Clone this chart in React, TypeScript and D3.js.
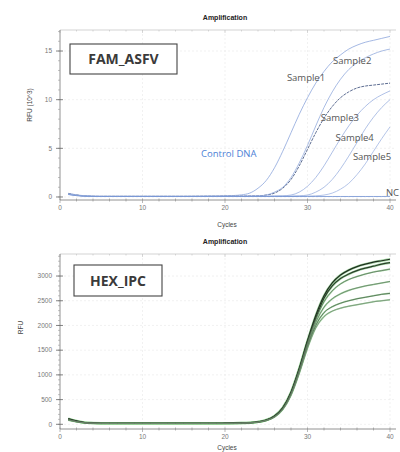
import React from "react";
import * as d3 from "d3";

// cycle numbers (x categories)
const cycles = [
  1, 2, 3, 4, 5, 6, 7, 8, 9, 10, 11, 12, 13, 14, 15, 16, 17, 18, 19, 20,
  21, 22, 23, 24, 25, 26, 27, 28, 29, 30, 31, 32, 33, 34, 35, 36, 37, 38, 39, 40,
];

// FAM_ASFV channel, RFU x10^3
const famControl = [
  0.38, 0.22, 0.12, 0.08, 0.07, 0.07, 0.07, 0.07, 0.07, 0.07, 0.07, 0.07, 0.07, 0.07, 0.07, 0.08, 0.08, 0.09, 0.1, 0.12,
  0.15, 0.22, 0.4, 0.9, 1.7, 3.0, 4.7, 6.6, 8.5, 10.2, 11.7, 12.9, 13.9, 14.6, 15.2, 15.6, 15.9, 16.1, 16.3, 16.5,
];
const famSample1 = [
  0.34, 0.2, 0.1, 0.07, 0.06, 0.06, 0.06, 0.06, 0.06, 0.06, 0.06, 0.06, 0.06, 0.06, 0.06, 0.06, 0.07, 0.07, 0.07, 0.08,
  0.08, 0.09, 0.1, 0.12, 0.2, 0.4, 0.9, 1.8, 3.2, 4.9, 6.6, 8.1, 9.3, 10.2, 10.8, 11.2, 11.4, 11.5, 11.6, 11.7,
];
const famSample2 = [
  0.3, 0.18, 0.1, 0.07, 0.06, 0.06, 0.06, 0.06, 0.06, 0.06, 0.06, 0.06, 0.06, 0.06, 0.06, 0.06, 0.06, 0.07, 0.07, 0.07,
  0.08, 0.08, 0.09, 0.11, 0.2, 0.5, 1.0, 2.0, 3.5, 5.3, 7.3, 9.2, 10.8, 12.1, 13.1, 13.8, 14.3, 14.7, 15.0, 15.2,
];
const famSample3 = [
  0.3, 0.17, 0.09, 0.06, 0.06, 0.06, 0.06, 0.06, 0.06, 0.06, 0.06, 0.06, 0.06, 0.06, 0.06, 0.06, 0.06, 0.06, 0.06, 0.07,
  0.07, 0.07, 0.08, 0.08, 0.09, 0.1, 0.12, 0.2, 0.5, 1.1, 2.0, 3.2, 4.6, 6.0, 7.3, 8.4, 9.3, 10.0, 10.5, 10.9,
];
const famSample4 = [
  0.28, 0.16, 0.09, 0.06, 0.05, 0.05, 0.05, 0.05, 0.05, 0.05, 0.05, 0.05, 0.05, 0.05, 0.05, 0.05, 0.05, 0.06, 0.06, 0.06,
  0.06, 0.06, 0.07, 0.07, 0.07, 0.08, 0.08, 0.09, 0.12, 0.2, 0.5, 1.0, 1.8, 2.9, 4.2, 5.6, 7.0, 8.2, 9.2, 10.0,
];
const famSample5 = [
  0.27, 0.15, 0.08, 0.06, 0.05, 0.05, 0.05, 0.05, 0.05, 0.05, 0.05, 0.05, 0.05, 0.05, 0.05, 0.05, 0.05, 0.05, 0.05, 0.05,
  0.06, 0.06, 0.06, 0.06, 0.06, 0.07, 0.07, 0.07, 0.08, 0.09, 0.12, 0.2, 0.4, 0.8, 1.4, 2.3, 3.4, 4.7, 6.0, 7.2,
];
const famNC = [
  0.25, 0.14, 0.08, 0.05, 0.05, 0.05, 0.05, 0.05, 0.05, 0.05, 0.05, 0.05, 0.05, 0.05, 0.05, 0.05, 0.05, 0.05, 0.05, 0.05,
  0.05, 0.05, 0.05, 0.05, 0.05, 0.05, 0.05, 0.05, 0.05, 0.05, 0.05, 0.05, 0.05, 0.05, 0.05, 0.05, 0.05, 0.05, 0.05, 0.06,
];
const famSeries = [famControl, famSample1, famSample2, famSample3, famSample4, famSample5, famNC];
const famNames = ["Control DNA", "Sample1", "Sample2", "Sample3", "Sample4", "Sample5", "NC"];

// HEX_IPC channel, RFU
const hexA = [
  115, 68, 36, 25, 21, 20, 20, 20, 20, 20, 20, 20, 20, 20, 20, 20, 20, 21, 21, 22,
  23, 26, 33, 50, 88, 170, 335, 650, 1130, 1690, 2200, 2600, 2860, 3020, 3120, 3190, 3240, 3280, 3310, 3340,
];
const hexB = [
  105, 62, 34, 24, 20, 19, 19, 19, 19, 19, 19, 19, 19, 19, 19, 19, 19, 20, 20, 21,
  22, 25, 32, 48, 85, 165, 330, 640, 1120, 1680, 2150, 2550, 2800, 2950, 3040, 3110, 3160, 3200, 3240, 3270,
];
const hexC = [
  98, 58, 32, 23, 19, 18, 18, 18, 18, 18, 18, 18, 18, 18, 18, 18, 18, 19, 19, 20,
  21, 24, 31, 46, 82, 160, 322, 630, 1100, 1650, 2120, 2480, 2700, 2840, 2930, 2990, 3040, 3080, 3110, 3140,
];
const hexD = [
  92, 55, 30, 22, 18, 18, 18, 18, 18, 18, 18, 18, 18, 18, 18, 18, 18, 18, 19, 19,
  20, 23, 30, 45, 80, 155, 315, 615, 1080, 1610, 2060, 2370, 2540, 2640, 2710, 2760, 2800, 2830, 2860, 2890,
];
const hexE = [
  88, 52, 29, 21, 18, 17, 17, 17, 17, 17, 17, 17, 17, 17, 17, 17, 17, 17, 18, 18,
  19, 22, 29, 43, 77, 150, 305, 600, 1050, 1570, 2000, 2260, 2380, 2450, 2500, 2540, 2570, 2600, 2630, 2650,
];
const hexF = [
  84, 50, 28, 20, 17, 16, 16, 16, 16, 16, 16, 16, 16, 16, 16, 16, 16, 17, 17, 17,
  18, 21, 28, 42, 75, 146, 298, 585, 1030, 1540, 1950, 2180, 2290, 2350, 2390, 2420, 2450, 2480, 2500, 2520,
];
const hexSeries = [hexA, hexB, hexC, hexD, hexE, hexF];

const xTicks = [0, 10, 20, 30, 40];
const famYTicks = [0, 5, 10, 15];
const hexYTicks = [0, 500, 1000, 1500, 2000, 2500, 3000];

const AXIS_FONT = "'Liberation Sans', Arial, sans-serif";
const LABEL_FONT = "'Open Sans', 'Noto Sans', sans-serif";

interface PanelProps {
  top: number;
  bottom: number;
  yDomain: [number, number];
  yTicks: number[];
  yMinorStep: number;
  yLabel: string;
  series: number[][];
  boxText: string;
  box: { x: number; y: number; w: number; h: number };
  kind: "fam" | "hex";
}

function Panel({ top, bottom, yDomain, yTicks, yMinorStep, yLabel, series, boxText, box, kind }: PanelProps) {
  const left = 60;
  const right = 396;
  const x = d3.scaleLinear().domain([0, 40]).range([left, 390]);
  const y = d3.scaleLinear().domain(yDomain).range([bottom, top]);

  const line = d3
    .line<number>()
    .curve(d3.curveMonotoneX)
    .x((_, i) => x(cycles[i]))
    .y((d) => y(d));

  const xMinor = d3.range(0, 41, 2);
  const yMinor = d3.range(Math.ceil(yDomain[0] / yMinorStep) * yMinorStep, yDomain[1], yMinorStep);

  const famColors = ["#8da6dc", "#5d6d92", "#93abdd", "#9ab0e0", "#9db2e0", "#a2b6e2", "#6f8fd0"];
  const hexDark = ["#1f2e1f", "#2a3e2a", "#5d765d", "#667f66", "#4d664d", "#778f77"];

  return (
    <g>
      {/* grid */}
      {yTicks.map((t) => (
        <line key={"gy" + t} x1={left} x2={right} y1={y(t)} y2={y(t)} stroke="#e8e8e8" strokeWidth={0.6} strokeDasharray="2,2" />
      ))}
      {xTicks.slice(1).map((t) => (
        <line key={"gx" + t} x1={x(t)} x2={x(t)} y1={top} y2={bottom} stroke="#e8e8e8" strokeWidth={0.6} strokeDasharray="2,2" />
      ))}

      {/* top border with small ticks */}
      <line x1={left} x2={right} y1={top} y2={top} stroke="#c8c8c8" strokeWidth={0.8} />
      {xMinor.map((t) => (
        <line key={"tt" + t} x1={x(t)} x2={x(t)} y1={top} y2={top + (t % 10 === 0 ? 3 : 1.5)} stroke="#c0c0c0" strokeWidth={0.6} />
      ))}

      {/* curves */}
      {kind === "fam" &&
        series.map((s, i) => (
          <path key={"f" + i} d={line(s) || ""} fill="none" stroke={famColors[i]} strokeWidth={i === 1 ? 1 : 0.8}
            strokeDasharray={i === 1 ? "3,1" : undefined} />
        ))}
      {kind === "hex" &&
        series.map((s, i) => (
          <path key={"hg" + i} d={line(s) || ""} fill="none" stroke="#86c986" strokeWidth={i < 2 ? 2.4 : 1.6} opacity={0.75} />
        ))}
      {kind === "hex" &&
        series.map((s, i) => (
          <path key={"hd" + i} d={line(s) || ""} fill="none" stroke={hexDark[i]} strokeWidth={i < 2 ? 1.2 : 0.8} />
        ))}

      {/* y axis */}
      <line x1={left} x2={left} y1={top} y2={bottom} stroke="#777" strokeWidth={0.8} />
      {yMinor.map((t) => (
        <line key={"ym" + t} x1={left - 2} x2={left} y1={y(t)} y2={y(t)} stroke="#999" strokeWidth={0.6} />
      ))}
      {yTicks.map((t) => (
        <g key={"yt" + t}>
          <line x1={left - 4} x2={left + 3} y1={y(t)} y2={y(t)} stroke="#666" strokeWidth={0.8} />
          <text x={left - 8} y={y(t)} dy="0.35em" textAnchor="end" fontSize={6.5} fill="#777" fontFamily={AXIS_FONT}>
            {t}
          </text>
        </g>
      ))}

      {/* x axis */}
      <line x1={left} x2={right} y1={bottom} y2={bottom} stroke="#777" strokeWidth={0.8} />
      {xMinor.map((t) => (
        <line key={"xm" + t} x1={x(t)} x2={x(t)} y1={bottom - 1.5} y2={bottom + (t % 10 === 0 ? 3 : 1.5)}
          stroke="#888" strokeWidth={0.6} />
      ))}
      {xTicks.map((t) => (
        <text key={"xt" + t} x={x(t)} y={bottom + 10} textAnchor="middle" fontSize={6.5} fill="#777" fontFamily={AXIS_FONT}>
          {t}
        </text>
      ))}

      {/* axis titles */}
      <text x={227} y={Math.min(bottom + 27, 450)} textAnchor="middle" fontSize={6.5} fill="#444" fontFamily={AXIS_FONT}>
        Cycles
      </text>
      <text x={225} y={top - 10} textAnchor="middle" fontSize={7} fontWeight="bold" fill="#222" fontFamily={AXIS_FONT}>
        Amplification
      </text>
      <text
        transform={`translate(${kind === "fam" ? 32 : 23}, ${(top + bottom) / 2 + (kind === "fam" ? -10 : -14)}) rotate(-90)`}
        textAnchor="middle" fontSize={6.5} fill="#444" fontFamily={AXIS_FONT}
      >
        {yLabel}
      </text>

      {/* channel box */}
      <rect x={box.x} y={box.y} width={box.w} height={box.h} fill="#fff" stroke="#444" strokeWidth={1.1} />
      <text x={box.x + box.w / 2} y={box.y + box.h / 2} dy="0.36em" textAnchor="middle" fontSize={14}
        fontWeight="bold" fill="#3a3a3a" fontFamily={LABEL_FONT}>
        {boxText}
      </text>

      {kind === "fam" && (
        <g fontFamily={LABEL_FONT} fontSize={9.5} fill="#555">
          <text x={x(17.1)} y={y(4.5)} dy="0.35em" fill="#4d7fd6">{famNames[0]}</text>
          <text x={x(27.5)} y={y(12.3)} dy="0.35em">{famNames[1]}</text>
          <text x={x(33.1)} y={y(14.0)} dy="0.35em">{famNames[2]}</text>
          <text x={x(31.6)} y={y(8.1)} dy="0.35em">{famNames[3]}</text>
          <text x={x(33.4)} y={y(6.05)} dy="0.35em">{famNames[4]}</text>
          <text x={x(35.5)} y={y(4.1)} dy="0.35em">{famNames[5]}</text>
          <text x={x(39.5)} y={y(0.45)} dy="0.35em">{famNames[6]}</text>
        </g>
      )}
    </g>
  );
}

export default function App() {
  return (
    <svg width={400} height={452} style={{ position: "absolute", left: 0, top: 0, background: "#fff" }}>
      <rect width={400} height={452} fill="#fff" />
      <Panel
        top={30}
        bottom={200}
        yDomain={[-0.31, 17.16]}
        yTicks={famYTicks}
        yMinorStep={1}
        yLabel="RFU (10^3)"
        series={famSeries}
        boxText="FAM_ASFV"
        box={{ x: 70, y: 44, w: 107, h: 30 }}
        kind="fam"
      />
      <Panel
        top={254}
        bottom={429}
        yDomain={[-95, 3446]}
        yTicks={hexYTicks}
        yMinorStep={100}
        yLabel="RFU"
        series={hexSeries}
        boxText="HEX_IPC"
        box={{ x: 74, y: 265, w: 88, h: 31 }}
        kind="hex"
      />
    </svg>
  );
}
